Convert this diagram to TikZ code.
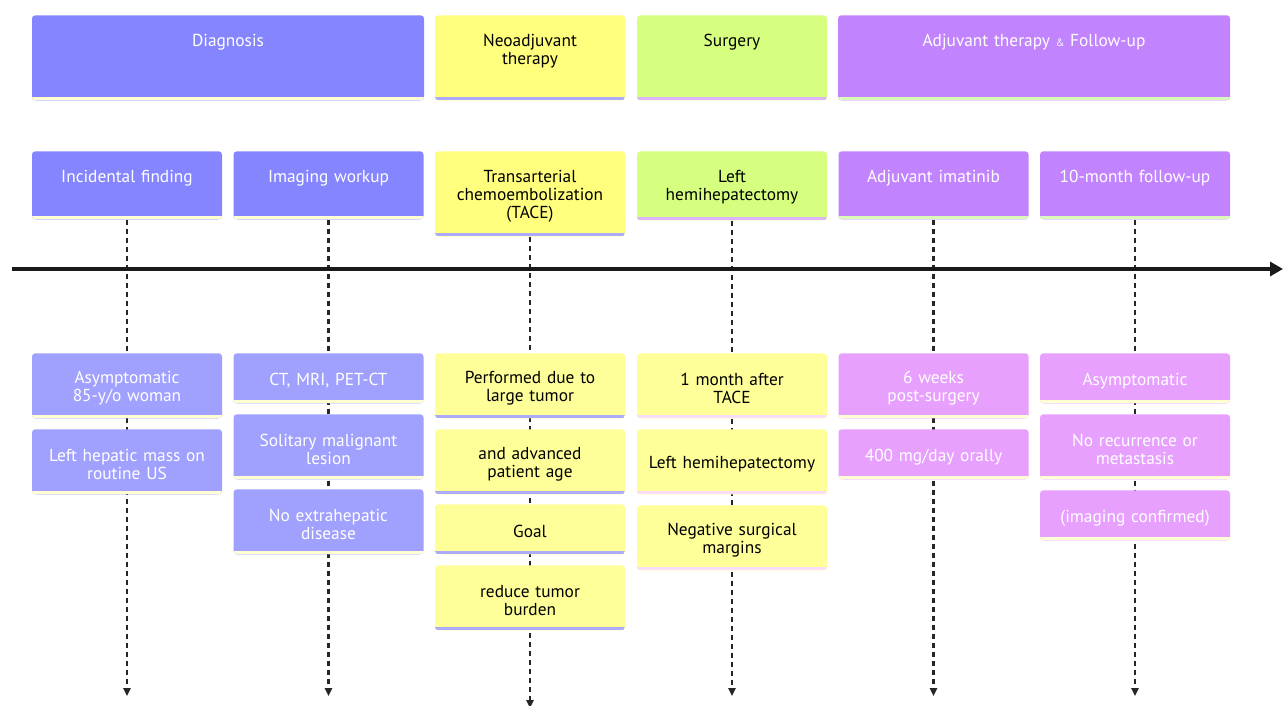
\documentclass[tikz,border=0pt]{standalone}
\usepackage{fontspec}
\setmainfont{PT Sans}
\usetikzlibrary{arrows.meta}

\definecolor{diagDark}{HTML}{8585FF}
\definecolor{diagLight}{HTML}{A0A0FF}
\definecolor{neoDark}{HTML}{FFFF7D}
\definecolor{neoLight}{HTML}{FFFF99}
\definecolor{surgDark}{HTML}{D6FF80}
\definecolor{adjDark}{HTML}{C283FF}
\definecolor{adjLight}{HTML}{E8A0FF}
\definecolor{paleYellow}{HTML}{FFFFD2}
\definecolor{paleBlue}{HTML}{ABABFA}
\definecolor{palePurple}{HTML}{DDB4FA}
\definecolor{palePink}{HTML}{F8DCF8}
\definecolor{paleGreen}{HTML}{DAF8B8}

\tikzset{
  stripe/.style={path picture={\fill[#1,sharp corners]
      ([yshift=2.25pt]path picture bounding box.south west)
      rectangle (path picture bounding box.south east);}},
  box/.style={rounded corners=2.5pt, align=center, inner xsep=6.25pt,
    font=\fontsize{13}{13.5}\selectfont},
  narrow/.style={text width=130pt},
  wide/.style={text width=281.5pt},
  head/.style={box, anchor=north, text height=9.5pt, inner ysep=13.75pt, text depth=#1},
  event/.style={box, narrow, anchor=north, minimum height=#1, text height=13pt},
  diagEv/.style={event=#1, fill=diagLight, text=white, stripe=paleYellow},
  neoEv/.style={event=#1, fill=neoLight, text=black, stripe=paleBlue},
  surgEv/.style={event=#1, fill=neoLight, text=black, stripe=palePink},
  adjEv/.style={event=#1, fill=adjLight, text=white, stripe=paleYellow},
  tick/.style={draw=black!85, line width=1.6pt, dash pattern=on 3.75pt off 3pt,
    -{Triangle[length=6pt,width=5.5pt]}},
  axis/.style={draw=black!90, line width=3pt, -{Triangle[length=9.75pt,width=10.5pt]}},
}

\begin{document}
\begin{tikzpicture}[x=0.75pt,y=-0.75pt]
  \useasboundingbox (0,0) rectangle (1283,706);

  % sections
  \node[head=26.75pt, wide, fill=diagDark, text=white, stripe=paleYellow] (diag) at (228,15) {Diagnosis};
  \node[head=26.75pt, narrow, fill=neoDark, stripe=paleBlue] (neo) at (530,15) {Neoadjuvant\\therapy};
  \node[head=26.75pt, narrow, fill=surgDark, stripe=palePurple] (surg) at (732,15) {Surgery};
  \node[head=26.75pt, wide, fill=adjDark, text=white, stripe=paleGreen] (adj) at (1034,15) {Adjuvant therapy {\footnotesize\&} Follow-up};

  % periods
  \node[head=14pt, narrow, fill=diagDark, text=white, stripe=paleYellow] (finding) at (127,151) {Incidental finding};
  \node[head=14pt, narrow, fill=diagDark, text=white, stripe=paleYellow] (imaging) at (328.5,151) {Imaging workup};
  \node[head=26.75pt, narrow, fill=neoDark, stripe=paleBlue] (tace) at (530,151) {Transarterial\\chemoembolization\\(TACE)};
  \node[head=14.75pt, narrow, fill=surgDark, stripe=palePurple] (hepa) at (732,151) {Left\\hemihepatectomy};
  \node[head=14pt, narrow, fill=adjDark, text=white, stripe=paleGreen] (imatinib) at (933.5,151) {Adjuvant imatinib};
  \node[head=14pt, narrow, fill=adjDark, text=white, stripe=paleGreen] (followup) at (1135,151) {10-month follow-up};

  % ends of the dashed lines
  \coordinate (findingEnd) at (127,696);
  \coordinate (imagingEnd) at (328.5,696);
  \coordinate (taceEnd) at (530,708);
  \coordinate (hepaEnd) at (732,696);
  \coordinate (imatinibEnd) at (933.5,696);
  \coordinate (followupEnd) at (1135,696);

  \foreach \p in {finding,imaging,tace,hepa,imatinib,followup}
    \draw[tick] (\p.south) -- (\p End);

  % time axis
  \coordinate (axStart) at (12,269);
  \coordinate (axEnd) at (1283,269);
  \draw[axis] (axStart) -- (axEnd);

  % events
  \node[diagEv=48.75pt] (finding1) at (127,353) {Asymptomatic\\85-y/o woman};
  \node[diagEv=48.75pt] (finding2) at (127,429) {Left hepatic mass on\\routine US};

  \node[diagEv=37.5pt] (imaging1) at (328.5,353) {CT, MRI, PET-CT};
  \node[diagEv=48.75pt] (imaging2) at (328.5,414) {Solitary malignant\\lesion};
  \node[diagEv=48.75pt] (imaging3) at (328.5,489) {No extrahepatic\\disease};

  \node[neoEv=48.75pt] (tace1) at (530,353) {Performed due to\\large tumor};
  \node[neoEv=48.75pt] (tace2) at (530,429) {and advanced\\patient age};
  \node[neoEv=37.5pt] (tace3) at (530,504) {Goal};
  \node[neoEv=48.75pt] (tace4) at (530,565) {reduce tumor\\burden};

  \node[surgEv=48.75pt] (hepa1) at (732,353) {1 month after\\TACE};
  \node[surgEv=48.75pt] (hepa2) at (732,429) {Left hemihepatectomy};
  \node[surgEv=48.75pt] (hepa3) at (732,505) {Negative surgical\\margins};

  \node[adjEv=48.75pt] (imatinib1) at (933.5,353) {6 weeks\\post-surgery};
  \node[adjEv=37.5pt] (imatinib2) at (933.5,429) {400 mg/day orally};

  \node[adjEv=37.5pt] (followup1) at (1135,353) {Asymptomatic};
  \node[adjEv=48.75pt] (followup2) at (1135,414) {No recurrence or\\metastasis};
  \node[adjEv=37.5pt] (followup3) at (1135,490) {(imaging confirmed)};

\end{tikzpicture}
\end{document}
